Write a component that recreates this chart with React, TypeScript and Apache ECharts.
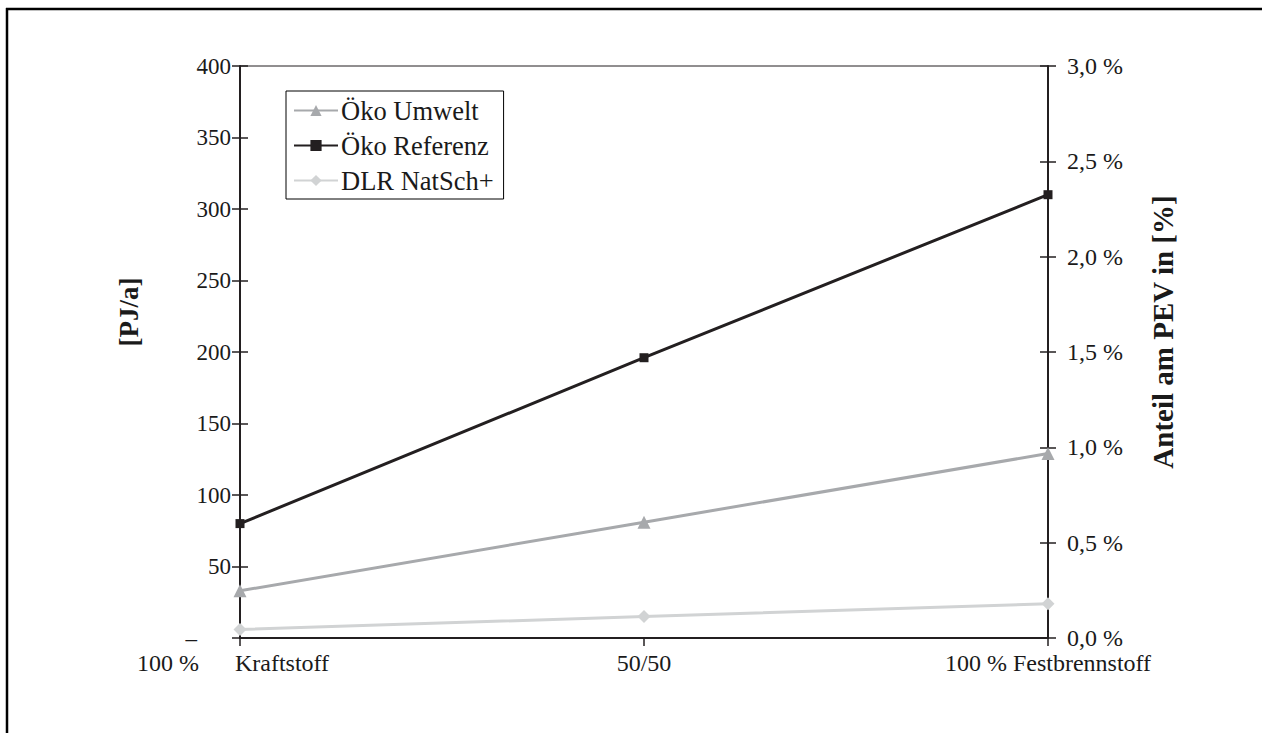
import React, { useEffect, useRef } from "react";
import * as echarts from "echarts";

const categories = ["100 % Kraftstoff", "50/50", "100 % Festbrennstoff"];
const oekoUmwelt = [33, 81, 129];
const oekoReferenz = [80, 196, 310];
const dlrNatSch = [6, 15, 24];
const leftTicks = { min: 0, max: 400, interval: 50 };
const rightTicks = { min: 0, max: 3, interval: 0.5 };
const seriesNames = ["Öko Umwelt", "Öko Referenz", "DLR NatSch+"];

const FONT = "Liberation Serif";
const AX = "#231f20";
const TXT = "#1a1a1a";

export default function App() {
  const ref = useRef<HTMLDivElement>(null);
  useEffect(() => {
    const chart = echarts.init(ref.current!, null, { renderer: "svg" });
    const yBase = {
      type: "value",
      min: leftTicks.min,
      max: leftTicks.max,
      interval: leftTicks.interval,
      splitLine: { show: false },
    };
    const rBase = {
      type: "value",
      min: rightTicks.min,
      max: rightTicks.max,
      interval: rightTicks.interval,
      splitLine: { show: false },
      position: "right",
    };
    chart.setOption({
      animation: false,
      textStyle: { fontFamily: FONT },
      grid: {
        left: 240,
        right: 214,
        top: 66,
        bottom: 95,
        show: true,
        borderColor: AX,
        borderWidth: 1,
      },
      legend: {
        orient: "vertical",
        left: 286,
        top: 91,
        padding: [6, 10, 5, 7],
        borderColor: "#000",
        borderWidth: 1,
        itemWidth: 44,
        itemHeight: 14,
        itemGap: 8,
        data: seriesNames,
        textStyle: { fontFamily: FONT, fontSize: 26.5, color: TXT, padding: [0, 0, 0, -2] },
      },
      xAxis: {
        type: "category",
        data: categories,
        boundaryGap: false,
        axisLine: { lineStyle: { color: AX, width: 2 } },
        axisTick: { length: 8, lineStyle: { color: AX, width: 1.5 } },
        axisLabel: {
          margin: 13,
          fontFamily: FONT,
          fontSize: 24,
          color: TXT,
          formatter: (v: string, i: number) =>
            i === 0 ? "{a|100 %}{b|Kraftstoff}" : v,
          rich: {
            a: { fontFamily: FONT, fontSize: 24, color: TXT, padding: [0, 36, 0, 0] },
            b: { fontFamily: FONT, fontSize: 24, color: TXT, padding: [0, 14, 0, 0] },
          },
        },
      },
      yAxis: [
        {
          ...yBase,
          position: "left",
          axisLine: { show: true, lineStyle: { color: AX, width: 2 } },
          axisTick: { show: true, length: 8, lineStyle: { color: AX, width: 1.5 } },
          axisLabel: {
            margin: 9,
            fontFamily: FONT,
            fontSize: 23,
            color: TXT,
            formatter: (v: number) => (v === 0 ? "{d|–}" : String(v)),
            rich: { d: { fontFamily: FONT, fontSize: 23, color: TXT, padding: [0, 34, 0, 0] } },
          },
        },
        {
          ...rBase,
          axisLine: { show: true, lineStyle: { color: AX, width: 2 } },
          axisTick: { show: true, length: 8, lineStyle: { color: AX, width: 1.5 } },
          axisLabel: {
            margin: 19,
            fontFamily: FONT,
            fontSize: 24,
            color: TXT,
            formatter: (v: number) => v.toFixed(1).replace(".", ",") + " %",
          },
        },
        {
          ...yBase,
          position: "left",
          axisLine: { show: false },
          axisTick: { show: true, inside: true, length: 8, lineStyle: { color: AX, width: 1.5 } },
          axisLabel: { show: false },
        },
        {
          ...rBase,
          axisLine: { show: false },
          axisTick: { show: true, inside: true, length: 8, lineStyle: { color: AX, width: 1.5 } },
          axisLabel: { show: false },
        },
      ],
      series: [
        {
          name: seriesNames[0],
          type: "line",
          data: oekoUmwelt,
          yAxisIndex: 0,
          symbol: "triangle",
          symbolSize: 13,
          color: "#a7a9ac",
          lineStyle: { width: 3, color: "#a7a9ac" },
          z: 3,
        },
        {
          name: seriesNames[1],
          type: "line",
          data: oekoReferenz,
          yAxisIndex: 0,
          symbol: "rect",
          symbolSize: 9,
          color: "#231f20",
          lineStyle: { width: 3, color: "#231f20" },
          z: 4,
        },
        {
          name: seriesNames[2],
          type: "line",
          data: dlrNatSch,
          yAxisIndex: 0,
          symbol: "diamond",
          symbolSize: 13,
          color: "#d1d3d4",
          lineStyle: { width: 3, color: "#d1d3d4" },
          z: 2,
        },
      ],
      graphic: [
        {
          type: "line",
          shape: { x1: 6, y1: 9, x2: 1262, y2: 9 },
          style: { stroke: "#000", lineWidth: 2.5 },
          silent: true,
        },
        {
          type: "line",
          shape: { x1: 7, y1: 8, x2: 7, y2: 733 },
          style: { stroke: "#000", lineWidth: 2.5 },
          silent: true,
        },
        {
          type: "text",
          x: 129,
          y: 312,
          rotation: Math.PI / 2,
          style: {
            text: "[PJ/a]",
            fontFamily: FONT,
            fontWeight: "bold",
            fontSize: 27,
            fill: TXT,
            align: "center",
            verticalAlign: "middle",
          },
        },
        {
          type: "text",
          x: 1163,
          y: 332,
          rotation: Math.PI / 2,
          style: {
            text: "Anteil am PEV in [%]",
            fontFamily: FONT,
            fontWeight: "bold",
            fontSize: 29,
            fill: TXT,
            align: "center",
            verticalAlign: "middle",
          },
        },
      ],
    });
    return () => chart.dispose();
  }, []);
  return (
    <div
      ref={ref}
      style={{ position: "absolute", left: 0, top: 0, width: 1262, height: 733 }}
    />
  );
}
